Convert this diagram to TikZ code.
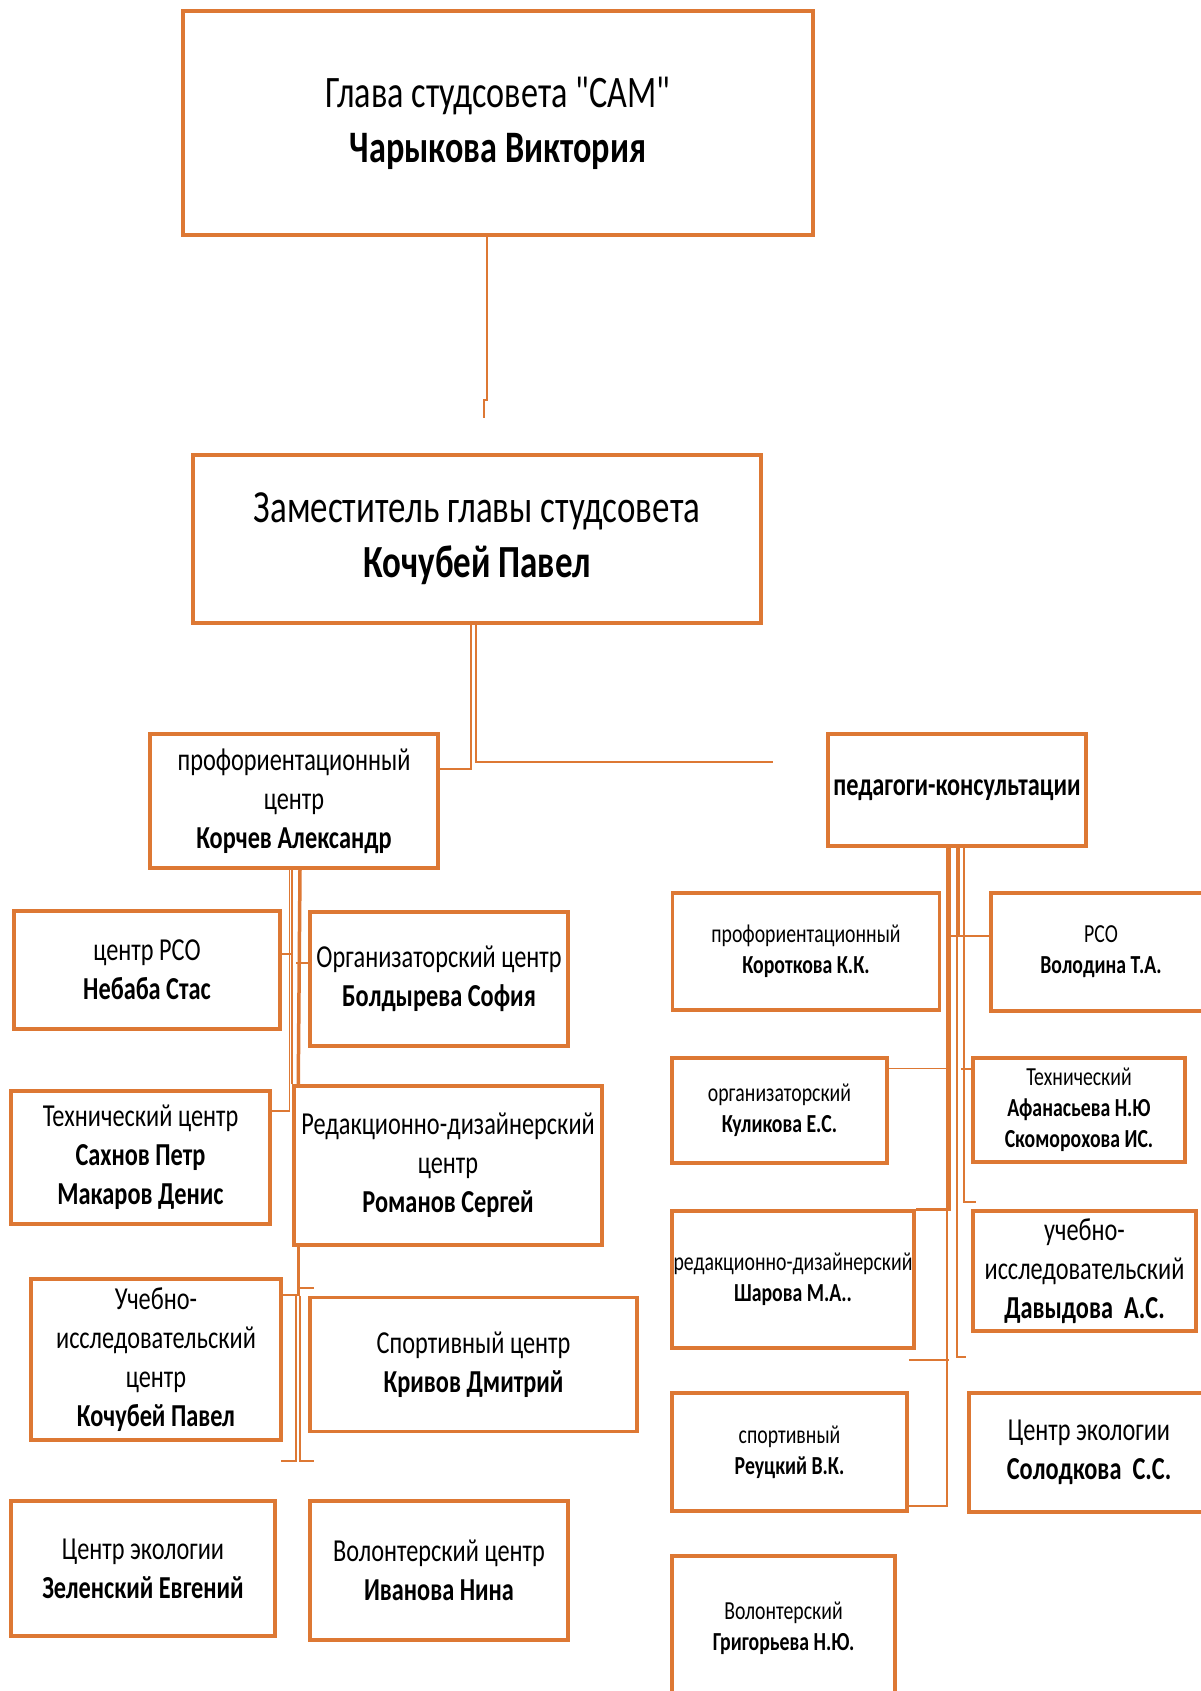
\documentclass[tikz,border=0pt]{standalone}
\usepackage{fontspec}
\setmainfont[FakeStretch=0.76, Ligatures=TeXOff]{Carlito}
\usepackage{tikz}
\definecolor{boxorange}{RGB}{221,120,52}

\begin{document}
\begin{tikzpicture}[x=1pt, y=-1pt,
                    entity/.style={rectangle, draw=boxorange, line width=3.5pt, align=center, inner sep=0pt},
                    bigentity/.style={entity, font=\fontsize{45}{55}\selectfont},
                    midentity/.style={entity, font=\fontsize{32}{39}\selectfont},
                    smallentity/.style={entity, font=\fontsize{26}{31}\selectfont},
                    link/.style={draw=boxorange, line width=1.6pt},
                    thicklink/.style={draw=boxorange, line width=3.5pt}]
            \useasboundingbox (0,0) rectangle (1201,1691);

            % Head of the council
            \node[bigentity, minimum width=630pt, minimum height=224pt] (head) at (498,123) {Глава студсовета "САМ"\\ \textbf{Чарыкова Виктория}};
            \node[bigentity, font=\fontsize{46}{55}\selectfont, minimum width=568pt, minimum height=168pt] (deputy) at (477,539) {Заместитель главы студсовета\\ \textbf{Кочубей Павел}};

            % Centres
            \node[midentity, minimum width=288pt, minimum height=134pt] (profcenter) at (294,801) {профориентационный\\ центр\\ \textbf{Корчев Александр}};
            \node[midentity, minimum width=266pt, minimum height=118pt] (rsocenter) at (147,970) {центр РСО\\ \textbf{Небаба Стас}};
            \node[midentity, minimum width=258pt, minimum height=134pt] (orgcenter) at (439,979) {Организаторский центр\\ \textbf{Болдырева София}};
            \node[midentity, minimum width=259pt, minimum height=133pt] (techcenter) at (140.5,1157.5) {Технический центр\\ \textbf{Сахнов Петр}\\ \textbf{Макаров Денис}};
            \node[midentity, minimum width=308pt, minimum height=159pt] (redcenter) at (448,1165.5) {Редакционно-дизайнерский\\ центр\\ \textbf{Романов Сергей}};
            \node[midentity, minimum width=250pt, minimum height=161pt] (uchcenter) at (156,1359.5) {Учебно-\\ исследовательский\\ центр\\ \textbf{Кочубей Павел}};
            \node[midentity, minimum width=327pt, minimum height=134pt] (sportcenter) at (473.5,1364.5) {Спортивный центр\\ \textbf{Кривов Дмитрий}};
            \node[midentity, minimum width=264pt, minimum height=135pt] (ecocenter) at (143,1568.5) {Центр экологии\\ \textbf{Зеленский Евгений}};
            \node[midentity, minimum width=258pt, minimum height=139pt] (volcenter) at (439,1570.5) {Волонтерский центр\\ \textbf{Иванова Нина}};

            % Teachers
            \node[midentity, minimum width=258pt, minimum height=112pt] (pedconsult) at (957,790) {\textbf{педагоги-консультации}};
            \node[smallentity, minimum width=267pt, minimum height=117pt] (pprof) at (806,951.5) {профориентационный\\ \textbf{Короткова К.К.}};
            \node[smallentity, minimum width=220pt, minimum height=118pt] (prso) at (1101,952) {РСО\\ \textbf{Володина Т.А.}};
            \node[smallentity, minimum width=215pt, minimum height=105pt] (porg) at (779.5,1110.5) {организаторский\\ \textbf{Куликова Е.С.}};
            \node[smallentity, minimum width=212pt, minimum height=104pt] (ptech) at (1079,1110) {Технический\\ \textbf{Афанасьева Н.Ю}\\ \textbf{Скоморохова ИС.}};
            \node[smallentity, minimum width=242pt, minimum height=137pt] (pred) at (793,1279.5) {редакционно-дизайнерский\\ \textbf{Шарова М.А..}};
            \node[midentity, minimum width=223pt, minimum height=120pt] (puch) at (1084.5,1271) {учебно-\\ исследовательский\\ \textbf{Давыдова\ \ А.С.}};
            \node[smallentity, minimum width=235pt, minimum height=118pt] (psport) at (789.5,1452) {спортивный\\ \textbf{Реуцкий В.К.}};
            \node[midentity, minimum width=240pt, minimum height=119pt] (peco) at (1089,1452.5) {Центр экологии\\ \textbf{Солодкова\ \ С.С.}};
            \node[smallentity, minimum width=223pt, minimum height=144pt] (pvol) at (783.5,1628) {Волонтерский\\ \textbf{Григорьева Н.Ю.}};

            % Head to deputy
            \coordinate (headend) at (484,418);
            \draw[link] ([xshift=-11pt]head.south) |- (484,400) -- (headend);

            % Deputy to both groups
            \coordinate (pedstub) at (773,762);
            \draw[link] ([xshift=-6pt]deputy.south) |- ([yshift=-37pt]profcenter.north east);
            \draw[link] ([xshift=-1pt]deputy.south) |- (pedstub);

            % Centres trunk
            \draw[link] ([xshift=-4.5pt]profcenter.south) |- ([yshift=-22pt]techcenter.north east);
            \draw[link] ([yshift=16pt]rsocenter.east) -- ++(9,0);
            \draw[link] (redcenter.north west |- profcenter.south) -- (redcenter.north west);
            \draw[thicklink] ([xshift=6pt]profcenter.south) -- ([xshift=6pt]redcenter.north west);
            \draw[link] ([yshift=16pt]orgcenter.west) -- ++(-12,0);
            \draw[thicklink] ([xshift=6pt]redcenter.south west) -- ++(0,49) coordinate (redjoin);
            \draw[link] ([xshift=6pt,yshift=-41pt]redcenter.south west) -- ++(16,0);
            \draw[link] ([yshift=-18pt]uchcenter.north east) -| ([xshift=-2pt]redjoin) -- ++(0,165) -- ++(-15,0);
            \draw[link] ([xshift=2pt]redjoin) -- ++(0,165) -- ++(14,0);

            % Teachers trunk
            \draw[thicklink] ([xshift=-8pt]pedconsult.south) |- (pred.north east);
            \draw[link] ([yshift=16pt]prso.west) -- ++(-42,0);
            \draw[link] ([yshift=42pt]porg.east) -- ++(60,0);
            \draw[link] ([xshift=-10pt]pedconsult.south) |- ([yshift=-54pt]psport.east);
            \draw[link] ([xshift=-7pt,yshift=-10pt]pred.south east) -- ++(40,0);
            \draw[link] (pedconsult.south) -- ++(0,509) -- ++(9,0);
            \draw[link] ([xshift=2pt]pedconsult.south) -- ++(0,88);
            \draw[link] ([xshift=7pt]pedconsult.south) |- ([xshift=5pt,yshift=7pt]puch.north west);
            \draw[link] ([yshift=41pt]ptech.west) -- ++(-10,0);
\end{tikzpicture}
\end{document}
